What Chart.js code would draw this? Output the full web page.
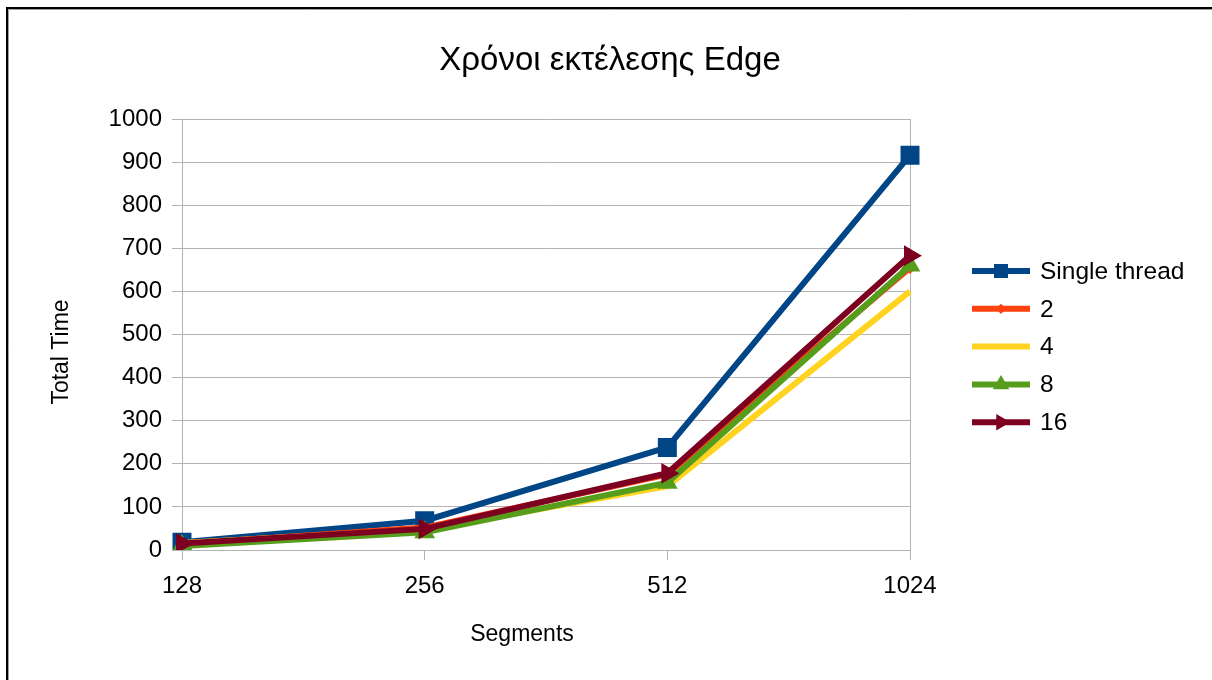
<!DOCTYPE html>
<html>
<head>
<meta charset="utf-8">
<title>Χρόνοι εκτέλεσης Edge</title>
<script src="https://cdn.jsdelivr.net/npm/chart.js@4/dist/chart.umd.min.js"></script>
<style>
  html, body { margin: 0; padding: 0; background: #ffffff; }
  #wrap { width: 1212px; height: 680px; position: relative; }
</style>
</head>
<body>
<div id="wrap"><canvas id="chart" width="1212" height="680"></canvas></div>
<script>
// Segment counts on the horizontal axis
const categories = ['128', '256', '512', '1024'];

// Total execution time per thread configuration
const seriesNames = ['Single thread', '2', '4', '8', '16'];
const singleThread = [18, 68, 238, 916];
const threads2 = [14, 52, 175, 655];
const threads4 = [16, 47, 148, 600];
const threads8 = [9, 41, 156, 660];
const threads16 = [15, 49, 178, 683];

const chartTitle = 'Χρόνοι εκτέλεσης Edge';
const xTitle = 'Segments';
const yTitle = 'Total Time';

const FONT = "'Liberation Sans', Arial, sans-serif";
const GRID = '#b3b3b3';

function series(label, data, color, style, radius, rotation, order) {
  return {
    label, data,
    borderColor: color,
    backgroundColor: color,
    borderWidth: 6,
    pointStyle: style,
    pointRadius: radius,
    pointHoverRadius: radius,
    pointRotation: rotation,
    pointBorderWidth: 2,
    pointBorderColor: color,
    pointBackgroundColor: color,
    tension: 0,
    order
  };
}

const datasets = [
  series(seriesNames[0], singleThread, '#004586', 'rect', 12, 0, 4),
  series(seriesNames[1], threads2, '#ff420e', 'rectRot', 5, 0, 3),
  series(seriesNames[2], threads4, '#ffd320', 'circle', 0, 0, 2),
  series(seriesNames[3], threads8, '#579d1c', 'triangle', 10, 0, 1),
  series(seriesNames[4], threads16, '#7e0021', 'triangle', 10, 90, 0)
];

// Frame, title, axis titles and the legend on the right
const decorations = {
  id: 'decorations',
  afterDraw(chart) {
    const ctx = chart.ctx;
    const area = chart.chartArea;
    ctx.save();

    // outer frame
    ctx.strokeStyle = '#000000';
    ctx.lineWidth = 2;
    ctx.beginPath();
    ctx.moveTo(7, chart.height);
    ctx.lineTo(7, 8);
    ctx.lineTo(chart.width, 8);
    ctx.stroke();
    ctx.strokeStyle = '#a0a0a0';
    ctx.lineWidth = 1;
    ctx.beginPath();
    ctx.moveTo(8.5, chart.height);
    ctx.lineTo(8.5, 9.5);
    ctx.lineTo(chart.width, 9.5);
    ctx.stroke();

    ctx.fillStyle = '#000000';
    ctx.textAlign = 'center';
    ctx.textBaseline = 'middle';

    // chart title
    ctx.font = '33px ' + FONT;
    ctx.fillText(chartTitle, 610, 61);

    // axis titles
    ctx.font = '23px ' + FONT;
    ctx.fillText(xTitle, 522, 635);
    ctx.save();
    ctx.translate(62, 352);
    ctx.rotate(-Math.PI / 2);
    ctx.fillText(yTitle, 0, 0);
    ctx.restore();

    // legend
    ctx.font = '24.5px ' + FONT;
    ctx.textAlign = 'left';
    const x0 = area.right + 62, x1 = area.right + 120;
    chart.data.datasets.forEach((ds, i) => {
      const y = 271 + i * 37.8;
      ctx.strokeStyle = ds.borderColor;
      ctx.lineWidth = ds.borderWidth;
      ctx.beginPath();
      ctx.moveTo(x0, y);
      ctx.lineTo(x1, y);
      ctx.stroke();
      if (ds.pointRadius > 0) {
        ctx.fillStyle = ds.pointBackgroundColor;
        ctx.strokeStyle = ds.pointBorderColor;
        ctx.lineWidth = ds.pointBorderWidth;
        Chart.helpers.drawPoint(ctx, {
          pointStyle: ds.pointStyle,
          rotation: ds.pointRotation,
          radius: ds.pointStyle === 'rect' ? 8.5 : ds.pointRadius * 0.75,
          borderWidth: ds.pointBorderWidth
        }, (x0 + x1) / 2, y);
      }
      ctx.fillStyle = '#000000';
      ctx.fillText(ds.label, x1 + 10, y + 1);
    });

    ctx.restore();
  }
};

new Chart(document.getElementById('chart'), {
  type: 'line',
  data: { labels: categories, datasets },
  options: {
    responsive: false,
    animation: false,
    events: [],
    layout: { padding: { top: 119, right: 302, left: 0, bottom: 0 } },
    plugins: {
      legend: { display: false },
      title: { display: false },
      tooltip: { enabled: false }
    },
    scales: {
      x: {
        offset: false,
        afterFit(scale) { scale.height = 130; },
        border: { display: true, color: GRID, width: 1 },
        grid: {
          drawOnChartArea: true,
          color: (c) => (c.index === categories.length - 1 ? GRID : 'rgba(0,0,0,0)'),
          tickColor: GRID,
          tickLength: 10
        },
        ticks: {
          color: '#000000',
          padding: 12,
          font: { family: FONT, size: 24 },
          maxRotation: 0
        }
      },
      y: {
        min: 0,
        max: 1000,
        afterFit(scale) { scale.width = 182; },
        border: { display: true, color: GRID, width: 1 },
        grid: { color: GRID, tickColor: GRID, tickLength: 10 },
        ticks: {
          stepSize: 100,
          color: '#000000',
          padding: 10,
          font: { family: FONT, size: 24 },
          callback: (v) => String(v)
        }
      }
    }
  },
  plugins: [decorations]
});
</script>
</body>
</html>
